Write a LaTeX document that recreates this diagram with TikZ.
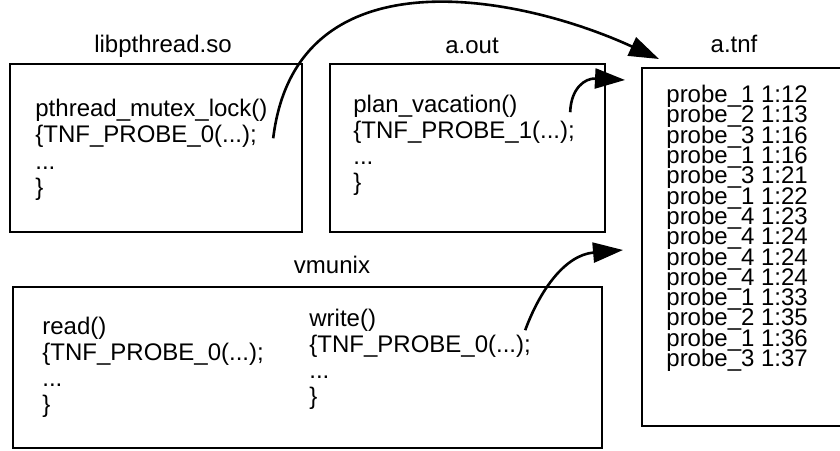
\documentclass[tikz,border=0pt]{standalone}
\usepackage{fontspec}
\setmainfont{Liberation Sans}
\usetikzlibrary{arrows.meta, calc}

\newcommand{\tnffont}{\fontsize{12}{10.15}\selectfont\lineskiplimit=-20pt\relax}

\tikzset{
	filebox/.style={draw, line width=1.4pt},
	code/.style={anchor=base west, inner sep=0pt, font=\fontsize{12}{13}\selectfont},
	filename/.style={anchor=base, inner sep=0pt, font=\fontsize{12}{13}\selectfont},
	tnflist/.style={anchor=base west, inner sep=0pt, align=left, font=\tnffont},
	probearrow/.style={-{Triangle[length=15pt, width=10pt]}, line width=1.3pt},
}

\begin{document}
\begin{tikzpicture}[x=0.5pt, y=-0.5pt]
	\useasboundingbox (0,0) rectangle (840,450);
	\clip (0,0) rectangle (840,450);

	% --- libpthread.so ---
	\node[filename] (libname) at (163,52) {libpthread.so};
	\draw[filebox] (10,64) rectangle (302,232);
	\node[code] (lockname) at (35,116) {pthread\_mutex\_lock()};
	\node[code] (lockcall) at (35,142.5) {\{TNF\_PROBE\_0(...);};
	\node[code] (lockdots) at (35,169) {...};
	\node[code] (lockend) at (35,195.5) {\}};

	% --- a.out ---
	\node[filename] (aoutname) at (472,53) {a.out};
	\draw[filebox] (330,64) rectangle (605,232);
	\node[code] (planname) at (353,112) {plan\_vacation()};
	\node[code] (plancall) at (353,138) {\{TNF\_PROBE\_1(...);};
	\node[code] (plandots) at (353,164) {...};
	\node[code] (planend) at (353,190) {\}};

	% --- vmunix ---
	\node[filename] (vmname) at (332,273) {vmunix};
	\draw[filebox] (13,287) rectangle (602,448);
	\node[code] (readname) at (42,334) {read()};
	\node[code] (readcall) at (42,360) {\{TNF\_PROBE\_0(...);};
	\node[code] (readdots) at (42,386) {...};
	\node[code] (readend) at (42,412) {\}};
	\node[code] (writename) at (309,326) {write()};
	\node[code] (writecall) at (309,352) {\{TNF\_PROBE\_0(...);};
	\node[code] (writedots) at (309,378) {...};
	\node[code] (writeend) at (309,404) {\}};

	% --- a.tnf (base = last record) ---
	\node[filename] (tnfname) at (734,52) {a.tnf};
	\draw[filebox] (642,68) rectangle (850,426);
	\node[tnflist] (tnfrecords) at (666,366.5) {probe\_1 1:12\\probe\_2 1:13\\probe\_3 1:16\\probe\_1 1:16\\probe\_3 1:21\\probe\_1 1:22\\probe\_4 1:23\\probe\_4 1:24\\probe\_4 1:24\\probe\_4 1:24\\probe\_1 1:33\\probe\_2 1:35\\probe\_1 1:36\\probe\_3 1:37};

	% --- probes into the trace file ---
	\coordinate (lockto) at (659,59);
	\coordinate (planto) at (625,80);
	\coordinate (writeto) at (623,250);
	\draw[probearrow] ($(lockcall.east)+(16,2)$) .. controls (296,-50) and (520,-5) .. (lockto);
	\draw[probearrow] ($(plancall.north east)+(-5,-8)$) .. controls (571,88) and (585,78) .. (planto);
	\draw[probearrow] ($(writecall.north east)+(-6,-4)$) .. controls (540,290) and (565,255) .. (writeto);
\end{tikzpicture}
\end{document}
